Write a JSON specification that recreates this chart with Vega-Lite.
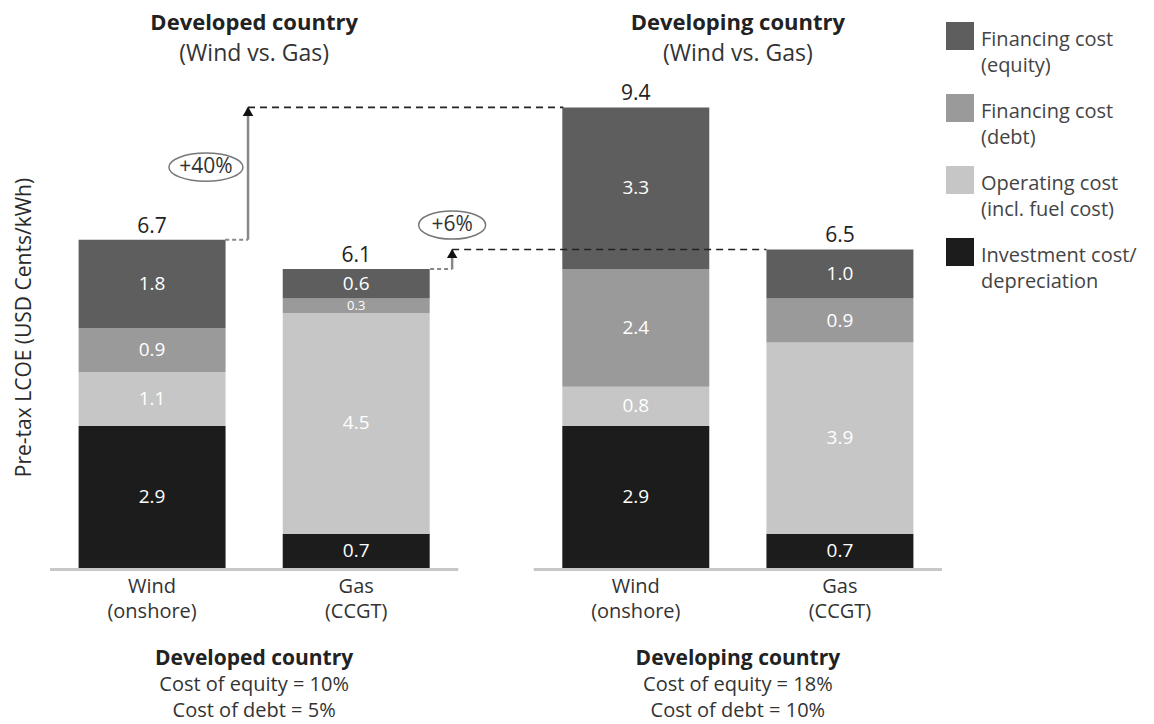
{
  "$schema": "https://vega.github.io/schema/vega-lite/v6.json",
  "width": 992,
  "height": 724,
  "autosize": {"type": "none"},
  "padding": {"left": 0, "top": 0, "right": 162, "bottom": 0},
  "background": "white",
  "config": {
    "view": {"stroke": null},
    "font": "Open Sans",
    "text": {"font": "Open Sans"},
    "legend": {
      "orient": "none",
      "legendX": 946,
      "legendY": 22,
      "padding": 0,
      "title": null,
      "symbolType": "square",
      "symbolSize": 784,
      "symbolStrokeWidth": 0,
      "symbolOpacity": 1,
      "labelFont": "Open Sans",
      "labelFontSize": 20,
      "labelColor": "#444444",
      "labelLimit": 300,
      "labelBaseline": "top",
      "labelOffset": 7,
      "rowPadding": 18
    }
  },
  "datasets": {
    "bars": [
      {"country": "Developed", "tech": "Wind (onshore)", "component": "Investment cost/depreciation", "rank": 1, "value": 2.9},
      {"country": "Developed", "tech": "Wind (onshore)", "component": "Operating cost (incl. fuel cost)", "rank": 2, "value": 1.1},
      {"country": "Developed", "tech": "Wind (onshore)", "component": "Financing cost (debt)", "rank": 3, "value": 0.9},
      {"country": "Developed", "tech": "Wind (onshore)", "component": "Financing cost (equity)", "rank": 4, "value": 1.8},
      {"country": "Developed", "tech": "Gas (CCGT)", "component": "Investment cost/depreciation", "rank": 1, "value": 0.7},
      {"country": "Developed", "tech": "Gas (CCGT)", "component": "Operating cost (incl. fuel cost)", "rank": 2, "value": 4.5},
      {"country": "Developed", "tech": "Gas (CCGT)", "component": "Financing cost (debt)", "rank": 3, "value": 0.3},
      {"country": "Developed", "tech": "Gas (CCGT)", "component": "Financing cost (equity)", "rank": 4, "value": 0.6},
      {"country": "Developing", "tech": "Wind (onshore)", "component": "Investment cost/depreciation", "rank": 1, "value": 2.9},
      {"country": "Developing", "tech": "Wind (onshore)", "component": "Operating cost (incl. fuel cost)", "rank": 2, "value": 0.8},
      {"country": "Developing", "tech": "Wind (onshore)", "component": "Financing cost (debt)", "rank": 3, "value": 2.4},
      {"country": "Developing", "tech": "Wind (onshore)", "component": "Financing cost (equity)", "rank": 4, "value": 3.3},
      {"country": "Developing", "tech": "Gas (CCGT)", "component": "Investment cost/depreciation", "rank": 1, "value": 0.7},
      {"country": "Developing", "tech": "Gas (CCGT)", "component": "Operating cost (incl. fuel cost)", "rank": 2, "value": 3.9},
      {"country": "Developing", "tech": "Gas (CCGT)", "component": "Financing cost (debt)", "rank": 3, "value": 0.9},
      {"country": "Developing", "tech": "Gas (CCGT)", "component": "Financing cost (equity)", "rank": 4, "value": 1.0}
    ],
    "groups": [
      {"country": "Developed", "head": "Developed country", "sub": "(Wind vs. Gas)", "equity": "Cost of equity = 10%", "debt": "Cost of debt = 5%"},
      {"country": "Developing", "head": "Developing country", "sub": "(Wind vs. Gas)", "equity": "Cost of equity = 18%", "debt": "Cost of debt = 10%"}
    ],
    "conn": [
      {"tech": "Wind", "from": "Developed", "to": "Developing", "start": 6.7, "end": 9.4, "change": "+40%"},
      {"tech": "Gas", "from": "Developed", "to": "Developing", "start": 6.1, "end": 6.5, "change": "+6%"}
    ]
  },
  "layer": [
    {
      "data": {"name": "bars"},
      "transform": [
        {"stack": "value", "groupby": ["country", "tech"], "sort": [{"field": "rank", "order": "ascending"}], "as": ["y0", "y1"]}
      ],
      "mark": {"type": "bar"},
      "encoding": {
        "x": {"field": "country", "type": "nominal", "axis": null,
              "scale": {"domain": ["Developed", "Developing"], "paddingInner": 0.156, "paddingOuter": 0.1034}},
        "xOffset": {"field": "tech", "type": "nominal",
              "scale": {"domain": ["Wind (onshore)", "Gas (CCGT)"], "paddingInner": 0.28, "paddingOuter": 0.14}},
        "y": {"field": "y0", "type": "quantitative",
              "scale": {"domain": [-3.184, 11.592], "nice": false, "zero": false},
              "axis": {"title": "Pre-tax LCOE (USD Cents/kWh)", "labels": false, "ticks": false, "domain": false, "grid": false,
                       "titleX": 24, "titleY": 327, "titleAngle": -90, "titleAlign": "center", "titleBaseline": "middle",
                       "titleFont": "Open Sans", "titleFontSize": 21, "titleFontWeight": "normal", "titleColor": "#2a2a2a"}},
        "y2": {"field": "y1"},
        "color": {"field": "component", "type": "nominal",
                  "scale": {"domain": ["Financing cost (equity)", "Financing cost (debt)", "Operating cost (incl. fuel cost)", "Investment cost/depreciation"],
                            "range": ["#5e5e5e", "#9b9a9b", "#c6c6c6", "#1c1c1c"]},
                  "legend": {"labelExpr": "split(replace(replace(datum.label, ' (', '|('), 'cost/', 'cost/|'), '|')",
                             "encode": {"labels": {"update": {"dy": {"value": -6}, "lineHeight": {"value": 26}}}}}}
      }
    },
    {
      "data": {"name": "groups"},
      "mark": {"type": "bar", "color": "#c8c8c8"},
      "encoding": {
        "x": {"field": "country", "type": "nominal", "axis": null},
        "y": {"datum": 0, "type": "quantitative"},
        "y2": {"datum": -0.06}
      }
    },
    {
      "data": {"name": "bars"},
      "transform": [
        {"stack": "value", "groupby": ["country", "tech"], "sort": [{"field": "rank", "order": "ascending"}], "as": ["y0", "y1"]},
        {"fold": ["y0", "y1"], "as": ["edge", "pos"]},
        {"aggregate": [{"op": "mean", "field": "pos", "as": "mid"}], "groupby": ["country", "tech", "component", "value"]}
      ],
      "mark": {"type": "text", "color": "white", "baseline": "middle"},
      "encoding": {
        "x": {"field": "country", "type": "nominal", "axis": null},
        "xOffset": {"field": "tech", "type": "nominal"},
        "y": {"field": "mid", "type": "quantitative"},
        "size": {"condition": {"test": "datum.value < 0.5", "value": 13}, "value": 19},
        "text": {"field": "value", "type": "quantitative", "format": ".1f"}
      }
    },
    {
      "data": {"name": "bars"},
      "transform": [
        {"aggregate": [{"op": "sum", "field": "value", "as": "total"}], "groupby": ["country", "tech"]}
      ],
      "mark": {"type": "text", "fontSize": 21, "color": "#222222", "baseline": "bottom", "dy": -3},
      "encoding": {
        "x": {"field": "country", "type": "nominal", "axis": null},
        "xOffset": {"field": "tech", "type": "nominal"},
        "y": {"field": "total", "type": "quantitative"},
        "text": {"field": "total", "type": "quantitative", "format": ".1f"}
      }
    },
    {
      "data": {"name": "bars"},
      "transform": [
        {"aggregate": [{"op": "sum", "field": "value", "as": "total"}], "groupby": ["country", "tech"]}
      ],
      "mark": {"type": "text", "fontSize": 20, "color": "#333333", "baseline": "top", "dy": 9, "lineBreak": " ", "lineHeight": 25},
      "encoding": {
        "x": {"field": "country", "type": "nominal", "axis": null},
        "xOffset": {"field": "tech", "type": "nominal"},
        "y": {"datum": 0, "type": "quantitative"},
        "text": {"field": "tech"}
      }
    },
    {
      "data": {"name": "groups"},
      "mark": {"type": "text", "fontSize": 22, "fontWeight": "bold", "color": "#222222", "baseline": "middle"},
      "encoding": {
        "x": {"field": "country", "type": "nominal", "axis": null},
        "y": {"datum": 11.12, "type": "quantitative"},
        "text": {"field": "head"}
      }
    },
    {
      "data": {"name": "groups"},
      "mark": {"type": "text", "fontSize": 23, "color": "#333333", "baseline": "middle"},
      "encoding": {
        "x": {"field": "country", "type": "nominal", "axis": null},
        "y": {"datum": 10.5, "type": "quantitative"},
        "text": {"field": "sub"}
      }
    },
    {
      "data": {"name": "groups"},
      "mark": {"type": "text", "fontSize": 21, "fontWeight": "bold", "color": "#222222", "baseline": "middle"},
      "encoding": {
        "x": {"field": "country", "type": "nominal", "axis": null},
        "y": {"datum": -1.858, "type": "quantitative"},
        "text": {"field": "head"}
      }
    },
    {
      "data": {"name": "groups"},
      "mark": {"type": "text", "fontSize": 20, "color": "#333333", "baseline": "middle"},
      "encoding": {
        "x": {"field": "country", "type": "nominal", "axis": null},
        "y": {"datum": -2.388, "type": "quantitative"},
        "text": {"field": "equity"}
      }
    },
    {
      "data": {"name": "groups"},
      "mark": {"type": "text", "fontSize": 20, "color": "#333333", "baseline": "middle"},
      "encoding": {
        "x": {"field": "country", "type": "nominal", "axis": null},
        "y": {"datum": -2.918, "type": "quantitative"},
        "text": {"field": "debt"}
      }
    },
    {
      "data": {"name": "conn"},
      "transform": [{"filter": "datum.tech == 'Wind'"}],
      "mark": {"type": "rule", "color": "#888888", "strokeWidth": 2, "strokeDash": [4, 3]},
      "encoding": {
        "x": {"field": "from", "type": "nominal", "bandPosition": 0.429, "axis": null},
        "x2": {"field": "from", "bandPosition": 0.485},
        "y": {"field": "start", "type": "quantitative"}
      }
    },
    {
      "data": {"name": "conn"},
      "transform": [{"filter": "datum.tech == 'Wind'"}],
      "mark": {"type": "rule", "color": "#888888", "strokeWidth": 2.5},
      "encoding": {
        "x": {"field": "from", "type": "nominal", "bandPosition": 0.485, "axis": null},
        "y": {"field": "start", "type": "quantitative"},
        "y2": {"field": "end"}
      }
    },
    {
      "data": {"name": "conn"},
      "transform": [{"filter": "datum.tech == 'Wind'"}],
      "mark": {"type": "rule", "color": "#222222", "strokeWidth": 1.6, "strokeDash": [7, 5]},
      "encoding": {
        "x": {"field": "from", "type": "nominal", "bandPosition": 0.485, "axis": null},
        "x2": {"field": "to", "bandPosition": 0.0723},
        "y": {"field": "end", "type": "quantitative"}
      }
    },
    {
      "data": {"name": "conn"},
      "transform": [{"filter": "datum.tech == 'Wind'"}],
      "mark": {"type": "point", "shape": "triangle-up", "filled": true, "color": "#111111", "size": 110, "opacity": 1, "yOffset": 4},
      "encoding": {
        "x": {"field": "from", "type": "nominal", "bandPosition": 0.485, "axis": null},
        "y": {"field": "end", "type": "quantitative"}
      }
    },
    {
      "data": {"name": "conn"},
      "transform": [{"filter": "datum.tech == 'Wind'"}],
      "mark": {"type": "point", "shape": "M-1,0A1,0.38,0,1,1,1,0A1,0.38,0,1,1,-1,0Z", "filled": false, "color": "#777777", "strokeWidth": 1.5, "size": 5476, "opacity": 1},
      "encoding": {
        "x": {"field": "from", "type": "nominal", "bandPosition": 0.382, "axis": null},
        "y": {"datum": 8.18, "type": "quantitative"}
      }
    },
    {
      "data": {"name": "conn"},
      "transform": [{"filter": "datum.tech == 'Wind'"}],
      "mark": {"type": "text", "fontSize": 21, "color": "#333333", "baseline": "middle"},
      "encoding": {
        "x": {"field": "from", "type": "nominal", "bandPosition": 0.382, "axis": null},
        "y": {"datum": 8.18, "type": "quantitative"},
        "text": {"field": "change"}
      }
    },
    {
      "data": {"name": "conn"},
      "transform": [{"filter": "datum.tech == 'Gas'"}],
      "mark": {"type": "rule", "color": "#888888", "strokeWidth": 2, "strokeDash": [4, 3]},
      "encoding": {
        "x": {"field": "from", "type": "nominal", "bandPosition": 0.931, "axis": null},
        "x2": {"field": "from", "bandPosition": 0.985},
        "y": {"field": "start", "type": "quantitative"}
      }
    },
    {
      "data": {"name": "conn"},
      "transform": [{"filter": "datum.tech == 'Gas'"}],
      "mark": {"type": "rule", "color": "#888888", "strokeWidth": 2.5},
      "encoding": {
        "x": {"field": "from", "type": "nominal", "bandPosition": 0.985, "axis": null},
        "y": {"field": "start", "type": "quantitative"},
        "y2": {"field": "end"}
      }
    },
    {
      "data": {"name": "conn"},
      "transform": [{"filter": "datum.tech == 'Gas'"}],
      "mark": {"type": "rule", "color": "#222222", "strokeWidth": 1.6, "strokeDash": [7, 5]},
      "encoding": {
        "x": {"field": "from", "type": "nominal", "bandPosition": 0.985, "axis": null},
        "x2": {"field": "to", "bandPosition": 0.57},
        "y": {"field": "end", "type": "quantitative"}
      }
    },
    {
      "data": {"name": "conn"},
      "transform": [{"filter": "datum.tech == 'Gas'"}],
      "mark": {"type": "point", "shape": "triangle-up", "filled": true, "color": "#111111", "size": 110, "opacity": 1, "yOffset": 4},
      "encoding": {
        "x": {"field": "from", "type": "nominal", "bandPosition": 0.985, "axis": null},
        "y": {"field": "end", "type": "quantitative"}
      }
    },
    {
      "data": {"name": "conn"},
      "transform": [{"filter": "datum.tech == 'Gas'"}],
      "mark": {"type": "point", "shape": "M-1,0A1,0.42,0,1,1,1,0A1,0.42,0,1,1,-1,0Z", "filled": false, "color": "#777777", "strokeWidth": 1.5, "size": 4489, "opacity": 1},
      "encoding": {
        "x": {"field": "from", "type": "nominal", "bandPosition": 0.985, "axis": null},
        "y": {"datum": 7.0, "type": "quantitative"}
      }
    },
    {
      "data": {"name": "conn"},
      "transform": [{"filter": "datum.tech == 'Gas'"}],
      "mark": {"type": "text", "fontSize": 21, "color": "#333333", "baseline": "middle"},
      "encoding": {
        "x": {"field": "from", "type": "nominal", "bandPosition": 0.985, "axis": null},
        "y": {"datum": 7.0, "type": "quantitative"},
        "text": {"field": "change"}
      }
    }
  ]
}
